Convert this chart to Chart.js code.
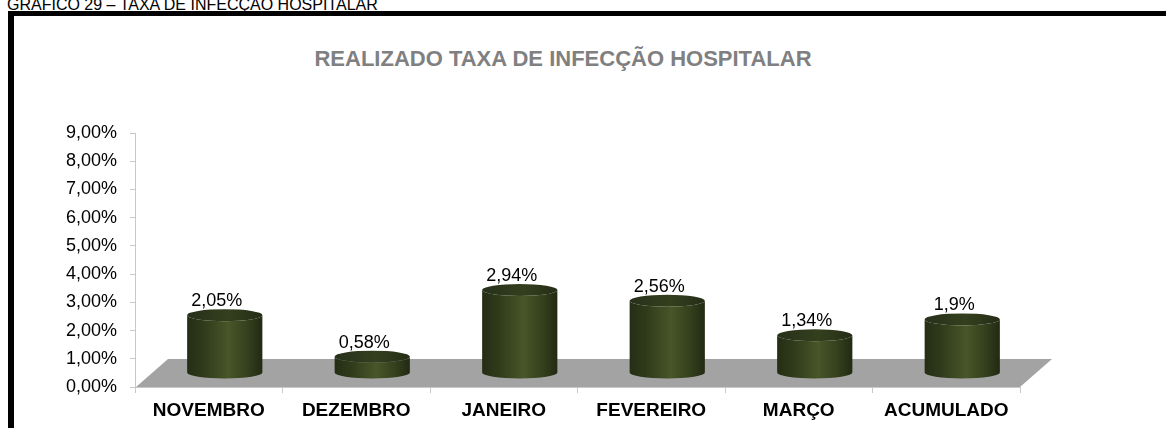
<!DOCTYPE html>
<html><head><meta charset="utf-8">
<script src="https://cdn.jsdelivr.net/npm/chart.js@4/dist/chart.umd.min.js"></script>
<style>
html,body{margin:0;padding:0;background:#fff;overflow:hidden;width:1166px;height:428px;}
#frame{position:absolute;left:8px;top:11px;width:1200px;height:500px;border-top:5px solid #000;border-left:6px solid #000;box-sizing:border-box;}
#hdr{position:absolute;left:7px;top:-3px;font:16px "Liberation Sans",Arial,sans-serif;line-height:16px;color:#000;white-space:nowrap;}
#ttl{position:absolute;left:0;top:48px;width:1126px;text-align:center;font:bold 22px "Liberation Sans",Arial,sans-serif;line-height:22px;color:#808080;}
canvas{position:absolute;left:0;top:0;}
</style></head><body>
<div id="hdr">GRÁFICO 29 – TAXA DE INFECÇÃO HOSPITALAR</div>
<div id="frame"></div>
<div id="ttl">REALIZADO TAXA DE INFECÇÃO HOSPITALAR</div>
<canvas id="c" width="1166" height="428"></canvas>
<script>
const categories = ['NOVEMBRO','DEZEMBRO','JANEIRO','FEVEREIRO','MARÇO','ACUMULADO'];
const values = [2.05, 0.58, 2.94, 2.56, 1.34, 1.9];
const valueLabels = ['2,05%','0,58%','2,94%','2,56%','1,34%','1,9%'];
const yTickLabels = ['0,00%','1,00%','2,00%','3,00%','4,00%','5,00%','6,00%','7,00%','8,00%','9,00%'];

const FONT = '"Liberation Sans", Arial, sans-serif';
const DEPTH_X = 32, DEPTH_Y = 28, RY = 6;

const cylPlugin = {
  id: 'cyl',
  beforeDatasetsDraw(chart) {
    const ctx = chart.ctx, xs = chart.scales.x, ys = chart.scales.y;
    const y0 = ys.getPixelForValue(0);
    ctx.save();
    ctx.fillStyle = '#a3a3a3';
    ctx.beginPath();
    ctx.moveTo(xs.left + 1, y0);
    ctx.lineTo(xs.right, y0);
    ctx.lineTo(xs.right + DEPTH_X, y0 - DEPTH_Y);
    ctx.lineTo(xs.left + 1 + DEPTH_X, y0 - DEPTH_Y);
    ctx.closePath();
    ctx.fill();
    ctx.restore();
  },
  afterDatasetsDraw(chart) {
    const ctx = chart.ctx;
    const meta = chart.getDatasetMeta(0);
    ctx.save();
    meta.data.forEach((bar, i) => {
      const p = bar.getProps(['x', 'y', 'base', 'width'], true);
      const cx = p.x + DEPTH_X / 2, rx = p.width / 2;
      const topY = p.y - DEPTH_Y / 2, baseY = p.base - DEPTH_Y / 2;
      const g = ctx.createLinearGradient(cx - rx, 0, cx + rx, 0);
      g.addColorStop(0, '#252e15');
      g.addColorStop(0.2, '#2f391a');
      g.addColorStop(0.55, '#485629');
      g.addColorStop(0.8, '#35401d');
      g.addColorStop(1, '#222a13');
      ctx.fillStyle = g;
      ctx.beginPath();
      ctx.moveTo(cx - rx, topY);
      ctx.lineTo(cx - rx, baseY);
      ctx.ellipse(cx, baseY, rx, RY, 0, Math.PI, 0, true);
      ctx.lineTo(cx + rx, topY);
      ctx.ellipse(cx, topY, rx, RY, 0, 0, Math.PI, false);
      ctx.closePath();
      ctx.fill();
      const gt = ctx.createLinearGradient(cx - rx, 0, cx + rx, 0);
      gt.addColorStop(0, '#27301a');
      gt.addColorStop(0.55, '#343f1e');
      gt.addColorStop(1, '#252d16');
      ctx.fillStyle = gt;
      ctx.beginPath();
      ctx.ellipse(cx, topY, rx, RY, 0, 0, Math.PI * 2);
      ctx.fill();
      ctx.fillStyle = '#000';
      ctx.font = '18px ' + FONT;
      ctx.textAlign = 'center';
      ctx.textBaseline = 'alphabetic';
      ctx.fillText(valueLabels[i], p.x + DEPTH_X / 4, topY - RY - 3);
    });
    ctx.restore();
  }
};

new Chart(document.getElementById('c'), {
  type: 'bar',
  data: {
    labels: categories,
    datasets: [{
      data: values,
      backgroundColor: 'rgba(0,0,0,0)',
      borderWidth: 0,
      barPercentage: 0.51,
      categoryPercentage: 1
    }]
  },
  options: {
    responsive: false,
    animation: false,
    devicePixelRatio: 1,
    layout: { padding: { left: 0, right: 146, top: 133, bottom: 0 } },
    plugins: { legend: { display: false }, tooltip: { enabled: false }, title: { display: false } },
    scales: {
      x: {
        grid: { display: true, drawOnChartArea: false, drawTicks: true, tickLength: 6, color: '#c8c8c8', offset: true },
        border: { color: '#c8c8c8' },
        ticks: { color: '#000', font: { family: FONT, size: 19, weight: 'bold' }, padding: 6, maxRotation: 0, autoSkip: false },
        afterFit(s) { s.height = 41; }
      },
      y: {
        min: 0, max: 9,
        grid: { drawOnChartArea: false, drawTicks: true, tickLength: 5, color: '#c8c8c8' },
        border: { color: '#c8c8c8' },
        ticks: { stepSize: 1, color: '#000', font: { family: FONT, size: 18 }, padding: 13,
          callback: (v, idx) => yTickLabels[idx] },
        afterFit(s) { s.width = 135; }
      }
    }
  },
  plugins: [cylPlugin]
});
</script>
</body></html>
